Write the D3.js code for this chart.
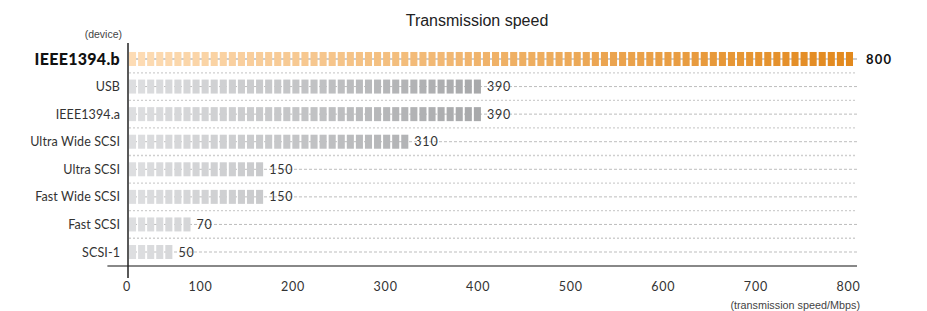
<!DOCTYPE html>
<html>
<head>
<meta charset="utf-8">
<script src="https://cdn.jsdelivr.net/npm/d3@7"></script>
<style>
  html, body { margin: 0; padding: 0; background: #fff; }
  svg { display: block; }
</style>
</head>
<body>
<svg id="chart" width="927" height="311"></svg>
<script>
const categories = ["IEEE1394.b", "USB", "IEEE1394.a", "Ultra Wide SCSI", "Ultra SCSI", "Fast Wide SCSI", "Fast SCSI", "SCSI-1"];
const values = [800, 390, 390, 310, 150, 150, 70, 50];
const tickValues = [0, 100, 200, 300, 400, 500, 600, 700, 800];
const highlight = "IEEE1394.b";
const blockUnit = 10;

const svg = d3.select("#chart");
const labelFont = "Lato, 'Noto Sans', sans-serif";

// scales
const xBar = d3.scaleLinear().domain([0, 800]).range([129, 855]);
const xAxisScale = d3.scaleLinear().domain([0, 800]).range([107.4, 848]);
const y = d3.scaleBand().domain(categories).range([45.2, 265.8]).padding(0);
const blockH = 14;
const blockW = (xBar(blockUnit) - xBar(0)) - 2;

const grayColor = d3.scaleLinear().domain([0, 400]).range(["#dddee0", "#a5a6a8"]).clamp(true);
const orangeColor = d3.scaleLinear().domain([0, 800]).range(["#fddcb5", "#e2881b"]);

// title
svg.append("text")
  .attr("x", 477).attr("y", 26)
  .attr("text-anchor", "middle")
  .attr("font-family", "'Liberation Sans', Arial, sans-serif")
  .attr("font-size", 16).attr("fill", "#222")
  .text("Transmission speed");

svg.append("text")
  .attr("x", 122).attr("y", 38)
  .attr("text-anchor", "end")
  .attr("font-family", "'Liberation Sans', Arial, sans-serif")
  .attr("font-size", 10.5).attr("fill", "#444")
  .text("(device)");

svg.append("text")
  .attr("x", 860).attr("y", 309)
  .attr("text-anchor", "end")
  .attr("font-family", "'Liberation Sans', Arial, sans-serif")
  .attr("font-size", 10.8).attr("fill", "#444")
  .text("(transmission speed/Mbps)");

// separators between rows
const step = y.step();
svg.append("g").selectAll("line")
  .data(categories.slice(0, -1))
  .join("line")
  .attr("x1", xBar(0)).attr("x2", 857)
  .attr("y1", d => y(d) + step).attr("y2", d => y(d) + step)
  .attr("stroke", "#cfcfcf").attr("stroke-width", 1.3)
  .attr("stroke-dasharray", "2,2");

// center lines through rows
svg.append("g").selectAll("line")
  .data(categories)
  .join("line")
  .attr("x1", xBar(0)).attr("x2", 857)
  .attr("y1", d => y(d) + step / 2).attr("y2", d => y(d) + step / 2)
  .attr("stroke", "#bdbdbd")
  .attr("stroke-width", d => d === highlight ? 1.5 : 1)
  .attr("stroke-dasharray", d => d === highlight ? null : "3,2");

// bars made of blocks
const rows = categories.map((c, i) => ({ c, v: values[i] }));
const rowG = svg.append("g").selectAll("g")
  .data(rows)
  .join("g");

rowG.each(function(d) {
  const n = Math.round(d.v / blockUnit);
  const blocks = d3.range(n).map(k => k * blockUnit);
  d3.select(this).selectAll("rect")
    .data(blocks)
    .join("rect")
    .attr("x", b => xBar(b))
    .attr("y", y(d.c) + step / 2 - blockH / 2)
    .attr("width", blockW)
    .attr("height", blockH)
    .attr("fill", b => d.c === highlight ? orangeColor(b) : grayColor(b));
});

// value labels
rowG.append("text")
  .attr("x", d => xBar(d.v) + (d.c === highlight ? 11 : 4))
  .attr("y", d => y(d.c) + step / 2)
  .attr("dy", "0.36em")
  .attr("font-family", labelFont)
  .attr("font-size", d => d.c === highlight ? 13 : 12.5)
  .attr("font-weight", d => d.c === highlight ? "bold" : "normal")
  .attr("letter-spacing", d => d.c === highlight ? 1.2 : 0.8)
  .attr("fill", d => d.c === highlight ? "#111" : "#333")
  .text(d => d.v);

// category labels
svg.append("g").selectAll("text")
  .data(categories)
  .join("text")
  .attr("x", 120)
  .attr("y", d => y(d) + step / 2)
  .attr("dy", "0.36em")
  .attr("text-anchor", "end")
  .attr("font-family", labelFont)
  .attr("font-size", d => d === highlight ? 16 : 12.5)
  .attr("font-weight", d => d === highlight ? "900" : "normal")
  .attr("letter-spacing", d => d === highlight ? 0.3 : 0.1)
  .attr("fill", d => d === highlight ? "#111" : "#333")
  .text(d => d);

// horizontal axis line
svg.append("line")
  .attr("x1", xAxisScale(0)).attr("x2", 857)
  .attr("y1", 266).attr("y2", 266)
  .attr("stroke", "#888").attr("stroke-width", 2);

// vertical axis line
svg.append("line")
  .attr("x1", xBar(0) - 1).attr("x2", xBar(0) - 1)
  .attr("y1", 43).attr("y2", 278)
  .attr("stroke", "#222").attr("stroke-width", 1.5);

// axis ticks
const axis = d3.axisBottom(xAxisScale)
  .tickValues(tickValues)
  .tickSize(0)
  .tickPadding(0)
  .tickFormat(d3.format("d"));
const axG = svg.append("g")
  .attr("transform", "translate(0,282)")
  .call(axis);
axG.select(".domain").remove();
axG.selectAll(".tick text")
  .attr("font-family", labelFont)
  .attr("font-size", 12.5)
  .attr("fill", "#333")
  .attr("letter-spacing", 0.8)
  .attr("dy", "0.71em");
// "0" label sits at the vertical axis
axG.selectAll(".tick").filter(d => d === 0)
  .attr("transform", `translate(${xBar(0) - 2},0)`);
</script>
</body>
</html>
